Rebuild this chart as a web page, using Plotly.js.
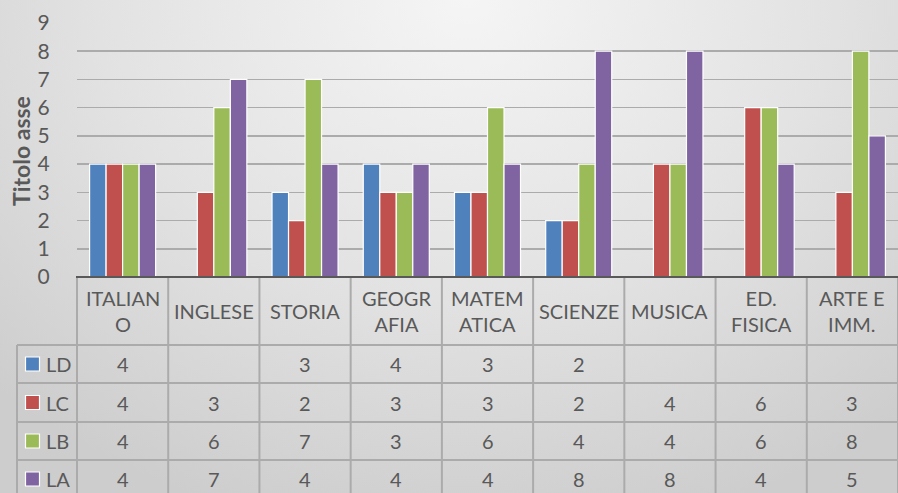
<!DOCTYPE html>
<html>
<head>
<meta charset="utf-8">
<script src="https://cdn.plot.ly/plotly-3.0.1.min.js"></script>
<style>
html,body{margin:0;padding:0;}
#chart{width:898px;height:493px;background:radial-gradient(ellipse 75% 110% at 52% 0%, #f5f5f5 0%, #e2e2e2 55%, #cdcdcd 100%);}
</style>
</head>
<body>
<div id="chart"></div>
<script>
// ---- data ----
const categories = ["ITALIANO","INGLESE","STORIA","GEOGRAFIA","MATEMATICA","SCIENZE","MUSICA","ED. FISICA","ARTE E IMM."];
const headerLabels = ["ITALIAN<br>O","INGLESE","STORIA","GEOGR<br>AFIA","MATEM<br>ATICA","SCIENZE","MUSICA","ED.<br>FISICA","ARTE E<br>IMM."];
const seriesNames = ["LD","LC","LB","LA"];
const LD = [4, null, 3, 4, 3, 2, null, null, null];
const LC = [4, 3, 2, 3, 3, 2, 4, 6, 3];
const LB = [4, 6, 7, 3, 6, 4, 4, 6, 8];
const LA = [4, 7, 4, 4, 4, 8, 8, 4, 5];
const yTicks = [0,1,2,3,4,5,6,7,8,9];
const yTitle = "Titolo asse";

// ---- styling / geometry ----
const colors = ["#4F81BD","#C0504D","#9BBB59","#8064A2"];
const seriesValues = [LD, LC, LB, LA];
const W = 898, H = 493, L = 77, R = 0, T = 23, B = 216;
const pw = W - L - R, ph = H - T - B;
const px = x => (x - L) / pw;
const py = y => (H - B - y) / ph;
const txtColor = "#595959";
const FONT = "Lato, 'Open Sans', sans-serif";
const gridCol = "#ababab";

const traces = seriesNames.map((n, i) => ({
  type: "bar",
  name: n,
  x: categories,
  y: seriesValues[i],
  marker: {color: colors[i], line: {color: "#ffffff", width: 1.2}},
  hoverinfo: "x+y+name"
}));

const shapes = [];
const annotations = [];
const colW = pw / categories.length;
// table lines
const rowLines = [345, 383, 422, 460, 498];
rowLines.forEach(y => shapes.push({type: "line", xref: "paper", yref: "paper",
  x0: px(17), x1: px(W + 2), y0: py(y), y1: py(y), line: {color: gridCol, width: 2}, layer: "below"}));
for (let i = 0; i <= categories.length; i++) {
  const x = L + i * colW;
  shapes.push({type: "line", xref: "paper", yref: "paper",
    x0: px(x), x1: px(x), y0: py(277), y1: py(500), line: {color: gridCol, width: 2}, layer: "below"});
}
shapes.push({type: "line", xref: "paper", yref: "paper",
  x0: px(17), x1: px(17), y0: py(345), y1: py(500), line: {color: gridCol, width: 2}, layer: "below"});
// axis line
shapes.push({type: "line", xref: "paper", yref: "paper",
  x0: px(76), x1: px(W + 2), y0: py(277), y1: py(277), line: {color: "#595959", width: 2}});

// header labels
headerLabels.forEach((t, i) => annotations.push({xref: "x", yref: "paper", x: i, y: py(311),
  text: t, showarrow: false, font: {family: FONT, size: 20, color: txtColor}, align: "center", yanchor: "middle"}));

// table rows
const rowCenters = [364, 402.5, 441, 479];
seriesNames.forEach((n, r) => {
  const yc = rowCenters[r];
  shapes.push({type: "rect", xref: "paper", yref: "paper",
    x0: px(25.5), x1: px(39.5), y0: py(yc - 7), y1: py(yc + 7),
    fillcolor: colors[r], line: {color: "#ffffff", width: 1.2}});
  annotations.push({xref: "paper", yref: "paper", x: px(44), y: py(yc), xanchor: "left", yanchor: "middle",
    text: n, showarrow: false, font: {family: FONT, size: 20, color: txtColor}});
  seriesValues[r].forEach((v, i) => {
    if (v === null) return;
    annotations.push({xref: "x", yref: "paper", x: i, y: py(yc), yanchor: "middle",
      text: String(v), showarrow: false, font: {family: FONT, size: 20, color: txtColor}});
  });
});

// y title
annotations.push({xref: "paper", yref: "paper", x: px(21), y: py(151), textangle: -90,
  text: "<b>" + yTitle + "</b>", showarrow: false, xanchor: "center", yanchor: "middle",
  font: {family: FONT, size: 23, color: txtColor}});

const layout = {
  width: W, height: H,
  margin: {l: L, r: R, t: T, b: B, pad: 0},
  paper_bgcolor: "rgba(0,0,0,0)",
  plot_bgcolor: "rgba(0,0,0,0)",
  barmode: "group",
  bargap: 0.276,
  bargroupgap: 0,
  showlegend: false,
  xaxis: {type: "category", range: [-0.5, categories.length - 0.5], showticklabels: false,
    showgrid: false, zeroline: false, showline: false, ticks: "", fixedrange: true},
  yaxis: {range: [0, 9], tickvals: yTicks, showgrid: true, gridcolor: gridCol, gridwidth: 1.5,
    zeroline: false, showline: false, ticks: "outside", ticklen: 22, tickcolor: "rgba(0,0,0,0)",
    tickfont: {family: FONT, size: 21, color: txtColor}, fixedrange: true},
  shapes: shapes,
  annotations: annotations,
  font: {family: FONT}
};

Plotly.newPlot("chart", traces, layout, {displayModeBar: false, staticPlot: true});
</script>
</body>
</html>
